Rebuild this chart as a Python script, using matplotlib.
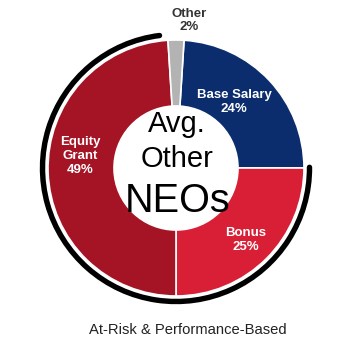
import matplotlib
matplotlib.use("Agg")
import matplotlib.pyplot as plt
from matplotlib.patches import Arc

categories = ["Base Salary", "Bonus", "Equity Grant", "Other"]
values = [24, 25, 49, 2]
colors = ["#0b2d6e", "#d81f36", "#a51424", "#b3b3b3"]
center_lines = ["Avg.", "Other", "NEOs"]
bottom_label = "At-Risk & Performance-Based"

W, H = 348, 346
fig = plt.figure(figsize=(W / 100, H / 100), dpi=100)
ax = fig.add_axes([0, 0, 1, 1])
ax.set_xlim(0, W)
ax.set_ylim(0, H)
ax.set_aspect("equal")
ax.axis("off")

def Y(py):
    return H - py

cx, cy = 176, 168
R = 128
inner = 62
startangle = 90 - 360 * values[-1] / 100 / 2

ax.pie(values, colors=colors, startangle=startangle, counterclock=False,
       center=(cx, Y(cy)), radius=R, frame=True,
       wedgeprops=dict(width=R - inner, edgecolor="white", linewidth=1.2))
ax.set_xlim(0, W)
ax.set_ylim(0, H)
ax.axis("off")

# at-risk arc (Bonus + Equity Grant)
bonus_start = startangle - 360 * values[0] / 100
equity_end = bonus_start - 360 * (values[1] + values[2]) / 100
arc = Arc((cx, Y(cy)), 2 * 133.5, 2 * 133.5, theta1=equity_end + 360 + 3.5,
          theta2=bonus_start + 360 + 0.3, linewidth=3.9, color="black",
          capstyle="round")
ax.add_patch(arc)

fam = ["Liberation Sans", "DejaVu Sans"]
lab = dict(family=fam, fontweight="bold", fontsize=9.5, ha="center",
           va="center", linespacing=1.2)
ax.text(234, Y(102), f"{categories[0]}\n{values[0]}%", color="white", **lab)
ax.text(246, Y(240), f"{categories[1]}\n{values[1]}%", color="white", **lab)
ax.text(80, Y(156), "Equity\nGrant\n" + f"{values[2]}%", color="white", **lab)
ax.text(189, Y(20.5), f"{categories[3]}\n{values[3]}%", color="#333333", **lab)

ax.text(177, Y(132), center_lines[0], family=fam, fontsize=21, ha="center",
        va="baseline", color="black")
ax.text(177, Y(167), center_lines[1], family=fam, fontsize=21, ha="center",
        va="baseline", color="black")
ax.text(177.5, Y(212), center_lines[2], family=fam, fontsize=28.5, ha="center",
        va="baseline", color="black")

ax.text(188, Y(330), bottom_label, family=fam, fontsize=10.6, ha="center",
        va="center", color="#222222")

fig.savefig("out.png", dpi=100)
